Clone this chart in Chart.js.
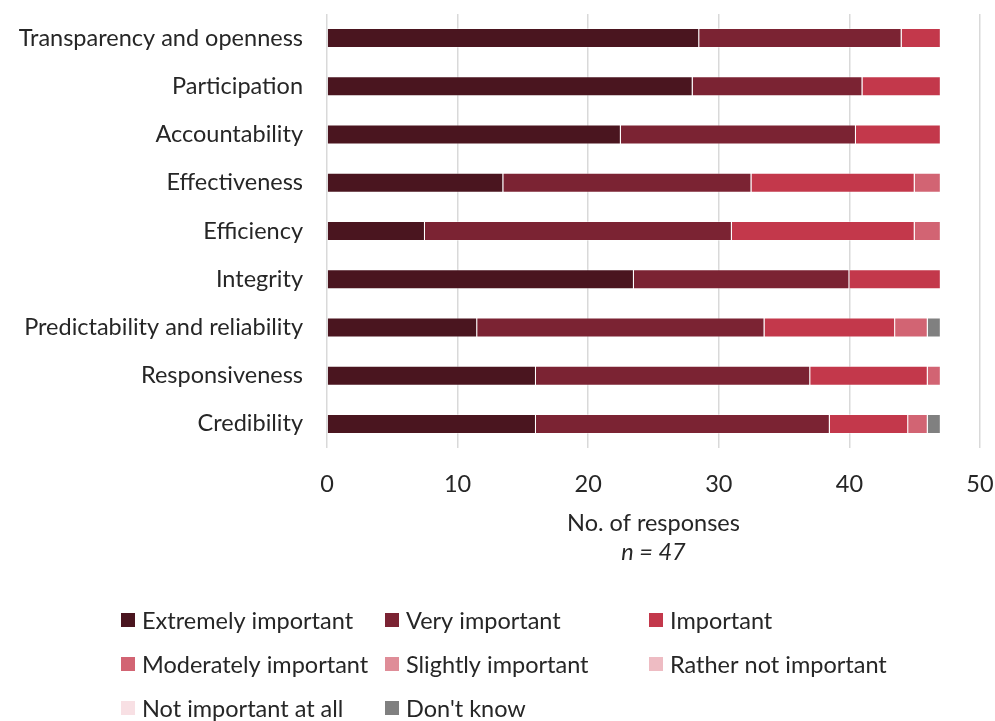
<!DOCTYPE html>
<html lang="en">
<head>
  <meta charset="UTF-8">
  <script src="https://cdn.jsdelivr.net/npm/chart.js@4.4.0/dist/chart.umd.min.js"></script>
  <title>Principles</title>
  <style>
    body { margin: 0; background: #fff; }
    #wrap { width: 995px; height: 721px; }
  </style>
</head>
<body>
  <div id="wrap"><canvas id="myChart" width="995" height="721"></canvas></div>

  <script>
    const categories = ['Transparency and openness', 'Participation', 'Accountability', 'Effectiveness',
      'Efficiency', 'Integrity', 'Predictability and reliability', 'Responsiveness', 'Credibility']

    const extremely = [28.5, 28, 22.5, 13.5, 7.5, 23.5, 11.5, 16, 16]
    const very      = [15.5, 13, 18, 19, 23.5, 16.5, 22, 21, 22.5]
    const important = [3, 6, 6.5, 12.5, 14, 7, 10, 9, 6]
    const moderate  = [0, 0, 0, 2, 2, 0, 2.5, 1, 1.5]
    const slightly  = [0, 0, 0, 0, 0, 0, 0, 0, 0]
    const ratherNot = [0, 0, 0, 0, 0, 0, 0, 0, 0]
    const notAtAll  = [0, 0, 0, 0, 0, 0, 0, 0, 0]
    const dontKnow  = [0, 0, 0, 0, 0, 0, 1, 0, 1]

    const seriesNames = ['Extremely important', 'Very important', 'Important', 'Moderately important',
      'Slightly important', 'Rather not important', 'Not important at all', "Don't know"]
    const seriesData = [extremely, very, important, moderate, slightly, ratherNot, notAtAll, dontKnow]
    const colors = ['#4a151f', '#7b2333', '#c3384b', '#d26473', '#df8d98', '#eebcc3', '#f8e0e4', '#808080']

    const xTicks = [0, 10, 20, 30, 40, 50]
    const sampleNote = 'n = 47'

    const FONT = 'Lato, "Open Sans", sans-serif'
    const SIZE = 23.5
    const TEXT = '#262626'

    // legend in a fixed 3-column grid plus the italic sample line
    const gridLegend = {
      id: 'gridLegend',
      afterDraw(chart) {
        const c = chart.ctx
        c.save()
        c.font = SIZE + 'px ' + FONT
        c.textBaseline = 'middle'
        chart.data.datasets.forEach((ds, i) => {
          const col = i % 3
          const row = Math.floor(i / 3)
          const x = 142 + col * 264
          const y = 620 + row * 44
          c.fillStyle = ds.backgroundColor
          c.fillRect(x - 21, y - 7, 14, 14)
          c.fillStyle = TEXT
          c.fillText(ds.label, x, y + 1)
        })
        const xs = chart.scales.x
        c.font = 'italic ' + SIZE + 'px ' + FONT
        c.textAlign = 'center'
        c.fillText(sampleNote, (xs.left + xs.right) / 2, 552)
        c.restore()
      }
    }

    const ctx = document.getElementById('myChart')
    const myChart = new Chart(ctx, {
      type: 'bar',
      data: {
        labels: categories,
        datasets: seriesNames.map((name, i) => ({
          label: name,
          data: seriesData[i],
          backgroundColor: colors[i],
          borderColor: 'rgba(255,255,255,0.35)',
          borderWidth: 1,
          barPercentage: 0.83,
          categoryPercentage: 0.5
        }))
      },
      options: {
        indexAxis: 'y',
        responsive: false,
        animation: false,
        layout: { padding: { left: 10, right: 0, top: 14, bottom: 183 } },
        plugins: { legend: { display: false }, tooltip: { enabled: false } },
        scales: {
          x: {
            stacked: true,
            min: 0,
            max: 50,
            afterBuildTicks: s => { s.ticks = xTicks.map(v => ({ value: v })) },
            afterFit: s => { s.height = 90; s.paddingRight = 15; s.paddingTop = 0 },
            grid: { color: '#d9d9d9', drawTicks: false, lineWidth: 1.5 },
            border: { display: false },
            ticks: { color: TEXT, font: { family: FONT, size: SIZE }, padding: 22 },
            title: { display: true, text: 'No. of responses', color: TEXT,
              font: { family: FONT, size: SIZE }, padding: { top: 4, bottom: 0 } }
          },
          y: {
            stacked: true,
            afterFit: s => { s.width = 317; s.paddingTop = 0; s.paddingBottom = 0 },
            grid: { display: false, drawTicks: false },
            border: { display: false },
            ticks: { color: TEXT, font: { family: FONT, size: SIZE }, padding: 24 }
          }
        }
      },
      plugins: [gridLegend]
    })
  </script>
</body>
</html>
